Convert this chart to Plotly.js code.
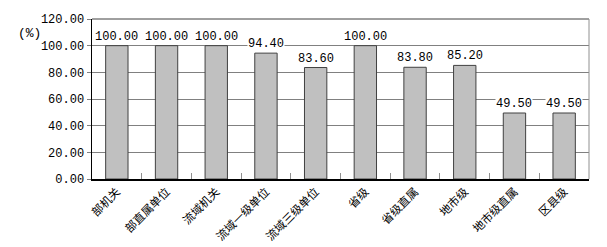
<!DOCTYPE html>
<html><head><meta charset="utf-8">
<script src="https://cdn.plot.ly/plotly-3.0.1.min.js"></script>
<style>html,body{margin:0;padding:0;background:#fff}</style>
</head><body><div id="chart" style="width:607px;height:247px"></div>
<script>
const categories = ["部机关","部直属单位","流域机关","流域一级单位","流域三级单位","省级","省级直属","地市级","地市级直属","区县级"];
const values = [100.00,100.00,100.00,94.40,83.60,100.00,83.80,85.20,49.50,49.50];
const yTicks = [0,20,40,60,80,100,120];

const numFont = {family:"Liberation Mono, DejaVu Sans Mono, monospace", size:12, color:"#000"};

const trace = {
  type:"bar", x:categories, y:values,
  marker:{color:"#c0c0c0", line:{color:"#404040", width:1}},
  width:0.45, hoverinfo:"skip"
};

const annotations = categories.map((c,i)=>({
  x:c, y:values[i], xref:"x", yref:"y", yanchor:"bottom", yshift:1,
  text:values[i].toFixed(2), showarrow:false, font:numFont,
  bgcolor:"#ffffff", borderpad:0
}));
annotations.push({xref:"paper", yref:"paper", x:-0.125, y:0.91, xanchor:"center", yanchor:"middle",
  text:"(%)", showarrow:false, font:{family:numFont.family, size:13, color:"#000"}});

const layout = {
  width:607, height:247,
  margin:{l:92, r:18, t:19, b:68},
  paper_bgcolor:"#fff", plot_bgcolor:"#fff",
  showlegend:false,
  xaxis:{type:"category", tickangle:-45, tickfont:{family:"Noto Sans CJK SC", size:11.5, color:"#000"},
    showline:true, linecolor:"#000", linewidth:1.5, ticks:"inside", tickson:"boundaries",
    ticklen:6, tickcolor:"#909090", showgrid:false, fixedrange:true},
  yaxis:{range:[0,120], tickvals:yTicks, ticktext:yTicks.map(v=>v.toFixed(2)),
    tickfont:numFont, showline:true, linecolor:"#000", linewidth:1.5,
    ticks:"outside", ticklen:4, tickcolor:"#808080",
    showgrid:true, gridcolor:"#808080", gridwidth:1, zeroline:false, fixedrange:true},
  shapes:[
    {type:"line", xref:"paper", yref:"paper", x0:0, x1:1, y0:1, y1:1, line:{color:"#404040", width:1}},
    {type:"line", xref:"paper", yref:"paper", x0:1, x1:1, y0:0, y1:1, line:{color:"#909090", width:1}}
  ],
  annotations:annotations
};
Plotly.newPlot("chart",[trace],layout,{displayModeBar:false, staticPlot:true});
</script></body></html>
